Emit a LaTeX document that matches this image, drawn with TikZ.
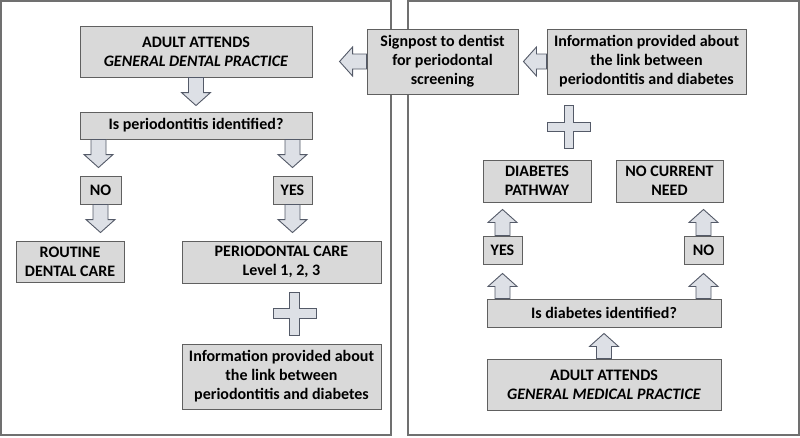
\documentclass[tikz,border=0pt]{standalone}
\usepackage{fontspec}
\setmainfont{Carlito}
\usetikzlibrary{calc}

\definecolor{panelgrey}{RGB}{112,112,112}
\definecolor{boxfill}{RGB}{217,217,217}
\definecolor{boxline}{RGB}{96,96,96}
\definecolor{arrfill}{RGB}{221,224,230}
\definecolor{arrline}{RGB}{84,90,104}

\tikzset{
  panel/.style={draw=panelgrey, line width=1.6},
  box/.style={draw=boxline, fill=boxfill, line width=0.9, align=center, inner sep=0,
    font=\bfseries\fontsize{16}{19}\selectfont},
  arrowbody/.style={draw=arrline, fill=arrfill, line width=0.9, line join=miter}
}

% Block arrow from #1 to #2
\newcommand{\blockarrow}[2]{%
  \path let \p1=(#1), \p2=(#2) in
    \pgfextra{\pgfmathparse{atan2(\y2-\y1,\x2-\x1)}\xdef\arrang{\pgfmathresult}%
      \pgfmathparse{veclen(\x2-\x1,\y2-\y1)}\xdef\arrlen{\pgfmathresult}};
  \draw[arrowbody, shift={(#1)}, rotate=\arrang]
    (0,-\shaftw) -- (\arrlen-\headl,-\shaftw) -- (\arrlen-\headl,-\headw) -- (\arrlen,0)
    -- (\arrlen-\headl,\headw) -- (\arrlen-\headl,\shaftw) -- (0,\shaftw) -- cycle;
}
% Plus sign at #1
\newcommand{\plussign}[1]{%
  \draw[arrowbody, shift={(#1)}]
    (-\plusarm,-\plusbar) -- (-\plusbar,-\plusbar) -- (-\plusbar,-\plusarm) -- (\plusbar,-\plusarm)
    -- (\plusbar,-\plusbar) -- (\plusarm,-\plusbar) -- (\plusarm,\plusbar) -- (\plusbar,\plusbar)
    -- (\plusbar,\plusarm) -- (-\plusbar,\plusarm) -- (-\plusbar,\plusbar) -- (-\plusarm,\plusbar) -- cycle;
}

\begin{document}
\begin{tikzpicture}[x=1pt, y=1pt]
    % Arrow and plus sizes
    \def\shaftw{7.5}
    \def\headw{14.5}
    \def\headl{13}
    \def\plusarm{21.5}
    \def\plusbar{4.75}

    \useasboundingbox (0,0) rectangle (800,-437);

    % Panels
    \draw[panel] (1,-1) rectangle (391,-435);
    \draw[panel] (408,-1) rectangle (799,-435);

    % Dental side
    \node[box, minimum width=232, minimum height=51] (gdp) at (196,-51.5)
        {ADULT ATTENDS\\\textit{GENERAL DENTAL PRACTICE}};
    \node[box, minimum width=232, minimum height=27] (isperio) at (196,-125.5)
        {Is periodontitis identified?};
    \node[box, minimum width=41, minimum height=28] (noL) at (100.5,-190) {NO};
    \node[box, minimum width=39, minimum height=28] (yesL) at (292.5,-190) {YES};
    \node[box, minimum width=108, minimum height=41] (routine) at (70,-261.5)
        {ROUTINE\\DENTAL CARE};
    \node[box, minimum width=199, minimum height=42] (perio) at (281.5,-262)
        {PERIODONTAL CARE\\Level 1, 2, 3};
    \node[box, minimum width=199, minimum height=65] (infoL) at (281.5,-376.5)
        {Information provided about\\the link between\\periodontitis and diabetes};

    % Medical side
    \node[box, minimum width=151, minimum height=65] (signpost) at (442.5,-61.5)
        {Signpost to dentist\\for periodontal\\screening};
    \node[box, minimum width=199, minimum height=65] (infoR) at (646.5,-61.5)
        {Information provided about\\the link between\\periodontitis and diabetes};
    \node[box, minimum width=108, minimum height=42] (diabpath) at (537,-181)
        {DIABETES\\PATHWAY};
    \node[box, minimum width=107, minimum height=42] (nocurrent) at (669.5,-181)
        {NO CURRENT\\NEED};
    \node[box, minimum width=39, minimum height=28] (yesR) at (502.5,-250) {YES};
    \node[box, minimum width=39, minimum height=28] (noR) at (703.5,-250) {NO};
    \node[box, minimum width=234, minimum height=28] (isdiab) at (604,-313)
        {Is diabetes identified?};
    \node[box, minimum width=234, minimum height=51] (gmp) at (604,-384.5)
        {ADULT ATTENDS\\\textit{GENERAL MEDICAL PRACTICE}};

    % Arrows
    \blockarrow{signpost.west}{$(signpost.west)+(-27,0)$}
    \blockarrow{infoR.west}{$(signpost.east)+(5,0)$}
    \blockarrow{gdp.south}{$(isperio.north)+(0,6)$}
    \blockarrow{$(isperio.south -| noL)+(-2,0)$}{$(noL.north)+(-2,8)$}
    \blockarrow{isperio.south -| yesL}{$(yesL.north)+(0,8)$}
    \blockarrow{noL.south}{$(routine.north -| noL)+(0,8)$}
    \blockarrow{yesL.south}{$(perio.north -| yesL)+(0,8)$}
    \blockarrow{yesR.north}{$(diabpath.south -| yesR)+(0,-7)$}
    \blockarrow{noR.north}{$(nocurrent.south -| noR)+(0,-7)$}
    \blockarrow{isdiab.north -| yesR}{$(yesR.south)+(0,-9)$}
    \blockarrow{isdiab.north -| noR}{$(noR.south)+(0,-9)$}
    \blockarrow{gmp.north}{$(isdiab.south)+(0,-6)$}

    % Plus signs
    \coordinate (plusL) at ($(perio.south)!0.5!(infoL.north)+(13,0)$);
    \coordinate (plusR) at ($(infoR.south west)!0.5!(diabpath.north east)$);
    \plussign{plusL}
    \plussign{plusR}
\end{tikzpicture}
\end{document}
